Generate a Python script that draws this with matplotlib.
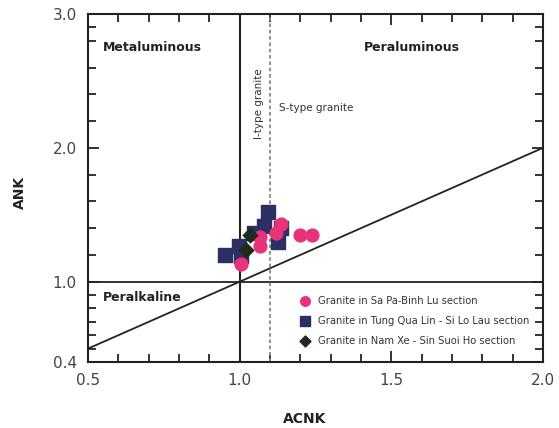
import matplotlib
matplotlib.use("Agg")
import matplotlib.pyplot as plt
import numpy as np

# Data
sapa_acnk = [1.137, 1.12, 1.066, 1.066, 1.005, 1.20, 1.24]
sapa_ank = [1.433, 1.363, 1.333, 1.27, 1.134, 1.35, 1.35]
tung_acnk = [1.095, 1.08, 1.137, 1.047, 1.126, 0.997, 0.951, 1.005]
tung_ank = [1.517, 1.418, 1.40, 1.363, 1.30, 1.263, 1.20, 1.19]
namxe_acnk = [1.033, 1.022]
namxe_ank = [1.35, 1.234]
xticks = [0.5, 1.0, 1.5, 2.0]
yticks = [0.4, 1.0, 2.0, 3.0]

fig = plt.figure(figsize=(5.59, 4.28), dpi=100)
ax = fig.add_axes([88/559, 1-362/428, (543-88)/559, (362-14)/428])
ax.set_xlim(0.5, 2.0)
ax.set_ylim(0.4, 3.0)

lc = '#222222'
ax.plot([1.0, 1.0], [0.4, 3.0], color=lc, lw=1.5, zorder=2)
ax.plot([0.5, 2.0], [1.0, 1.0], color=lc, lw=1.3, zorder=2)
ax.plot([0.5, 2.0], [0.5, 2.0], color=lc, lw=1.3, zorder=2)
ax.plot([1.1, 1.1], [0.4, 3.0], color='#888888', lw=1.3, ls=(0, (2, 1.5)), zorder=2)

ax.scatter(tung_acnk, tung_ank, marker='s', s=110, color='#2b2f63', zorder=3,
           label='Granite in Tung Qua Lin - Si Lo Lau section')
ax.scatter(sapa_acnk, sapa_ank, marker='o', s=85, color='#e8337a', zorder=4,
           label='Granite in Sa Pa-Binh Lu section')
ax.scatter(namxe_acnk, namxe_ank, marker='D', s=55, color='#1f2a1c', zorder=5,
           label='Granite in Nam Xe - Sin Suoi Ho section')

ax.set_xticks(xticks)
ax.set_xticklabels([f"{v:.1f}" for v in xticks])
ax.set_yticks(yticks)
ax.set_yticklabels([f"{v:.1f}" for v in yticks])
ax.set_xticks(np.round(np.arange(0.6, 2.0, 0.1), 2), minor=True)
ax.set_yticks([0.5, 0.6, 0.7, 0.8, 0.9, 1.2, 1.4, 1.6, 1.8, 2.2, 2.4, 2.6, 2.8, 2.9], minor=True)
ax.tick_params(which='both', direction='in', top=True, right=True, width=1.3, color=lc,
               labelsize=11, labelcolor='#444444', pad=8)
ax.tick_params(which='major', length=8)
ax.tick_params(which='minor', length=6)
for s in ax.spines.values():
    s.set_linewidth(1.5)
    s.set_color(lc)

fig.text(305/559, 1-419/428, 'ACNK', fontsize=10, fontweight='bold', color='#222222',
         ha='center', va='center')
fig.text(20/559, 1-192/428, 'ANK', fontsize=10, fontweight='bold', color='#222222',
         ha='center', va='center', rotation=90)

ax.text(0.55, 2.75, 'Metaluminous', fontsize=9, fontweight='bold', color='#222222', va='center')
ax.text(1.41, 2.75, 'Peraluminous', fontsize=9, fontweight='bold', color='#222222', va='center')
ax.text(0.55, 0.88, 'Peralkaline', fontsize=9, fontweight='bold', color='#222222', va='center')
ax.text(1.065, 2.33, 'I-type granite', fontsize=7.5, rotation=90, color='#333333', ha='center', va='center')
ax.text(1.13, 2.3, 'S-type granite', fontsize=7.5, color='#333333', va='center')

h, l = ax.get_legend_handles_labels()
order = [1, 0, 2]
leg = ax.legend([h[i] for i in order], [l[i] for i in order], loc='lower left',
                bbox_to_anchor=(0.435, 0.021), frameon=False, fontsize=7.2,
                handletextpad=0.35, labelspacing=1.0, markerscale=0.75)
for t in leg.get_texts():
    t.set_color('#333333')

fig.savefig('out.png', dpi=100)
